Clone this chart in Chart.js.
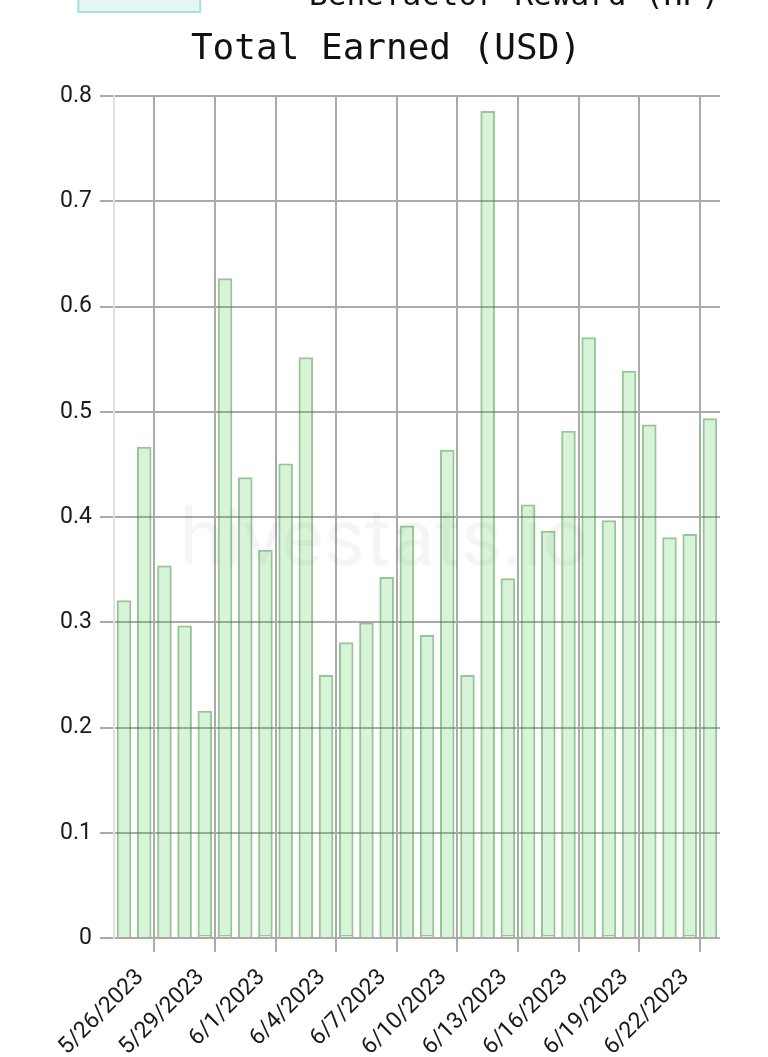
<!DOCTYPE html>
<html>
<head>
<meta charset="utf-8">
<script src="https://cdn.jsdelivr.net/npm/chart.js@4.4.0/dist/chart.umd.min.js"></script>
<style>
  html, body { margin: 0; padding: 0; background: #fff; overflow: hidden; width: 768px; height: 1057px; }
  #wrap { position: absolute; left: 0; top: -111px; width: 768px; height: 1184px; }
</style>
</head>
<body>
<div id="wrap"><canvas id="chart" width="768" height="1184"></canvas></div>
<script>
const dates = [
  '5/24/2023', '5/25/2023', '5/26/2023', '5/27/2023', '5/28/2023', '5/29/2023', '5/30/2023', '5/31/2023',
  '6/1/2023', '6/2/2023', '6/3/2023', '6/4/2023', '6/5/2023', '6/6/2023', '6/7/2023', '6/8/2023',
  '6/9/2023', '6/10/2023', '6/11/2023', '6/12/2023', '6/13/2023', '6/14/2023', '6/15/2023', '6/16/2023',
  '6/17/2023', '6/18/2023', '6/19/2023', '6/20/2023', '6/21/2023', '6/22/2023'
];

const tickLabels = [
  '5/26/2023', '5/29/2023', '6/1/2023', '6/4/2023', '6/7/2023',
  '6/10/2023', '6/13/2023', '6/16/2023', '6/19/2023', '6/22/2023'
];

// small bottom segments
const curationReward = [
  0, 0, 0, 0, 0.003, 0.003, 0, 0.003, 0, 0,
  0, 0.003, 0, 0, 0, 0.003, 0, 0, 0, 0.003,
  0, 0.003, 0, 0, 0.003, 0, 0, 0, 0.003, 0
];

const authorReward = [
  0.321, 0.467, 0.354, 0.297, 0.213, 0.624, 0.438, 0.366, 0.451, 0.552,
  0.250, 0.278, 0.300, 0.343, 0.392, 0.285, 0.464, 0.250, 0.786, 0.339,
  0.412, 0.384, 0.482, 0.571, 0.394, 0.539, 0.488, 0.381, 0.381, 0.494
];

const benefactorReward = [
  0, 0, 0, 0, 0, 0, 0, 0, 0, 0,
  0, 0, 0, 0, 0, 0, 0, 0, 0, 0,
  0, 0, 0, 0, 0, 0, 0, 0, 0, 0
];

const toPoints = (arr) => arr.map((v, i) => ({ x: i, y: v }));

const watermark = {
  id: 'watermark',
  beforeDatasetsDraw(chart) {
    const ctx = chart.ctx;
    ctx.save();
    ctx.font = '80px Roboto';
    ctx.fillStyle = 'rgba(0, 0, 0, 0.04)';
    ctx.textAlign = 'center';
    ctx.textBaseline = 'middle';
    ctx.fillText('hivestats.io', 384, 656);
    ctx.restore();
  }
};

// legend sits a little right of centre in the original
const legendShift = {
  id: 'legendShift',
  afterLayout(chart) {
    chart.legend.left += 13;
    chart.legend.right += 13;
  }
};

const green = {
  backgroundColor: 'rgba(60, 200, 60, 0.2)',
  borderColor: 'rgba(50, 140, 50, 0.5)',
  borderWidth: 2
};

new Chart(document.getElementById('chart'), {
  type: 'bar',
  data: {
    datasets: [
      { label: 'Curation Reward (HP)', data: toPoints(curationReward), ...green },
      { label: 'Author Reward (HP)', data: toPoints(authorReward), ...green },
      {
        label: 'Benefactor Reward (HP)',
        data: toPoints(benefactorReward),
        backgroundColor: 'rgba(75, 192, 192, 0.15)',
        borderColor: 'rgba(75, 192, 192, 0.45)',
        borderWidth: 2
      }
    ]
  },
  options: {
    responsive: false,
    animation: false,
    devicePixelRatio: 1,
    layout: { padding: { left: 52, right: 48, top: 0, bottom: 0 } },
    plugins: {
      legend: {
        position: 'top',
        weight: 3000,
        labels: {
          font: { family: 'DejaVu Sans Mono', size: 31 },
          color: '#111',
          boxWidth: 122,
          generateLabels(chart) {
            const items = Chart.defaults.plugins.legend.labels.generateLabels(chart);
            items.forEach(item => { item.text = '     ' + item.text; });
            return items;
          }
        }
      },
      title: {
        display: true,
        text: 'Total Earned (USD)',
        color: '#111',
        font: { family: 'DejaVu Sans Mono', size: 36, weight: 'normal' },
        padding: { top: 6, bottom: 25 }
      },
      tooltip: { enabled: false }
    },
    scales: {
      x: {
        type: 'linear',
        stacked: true,
        min: -0.5,
        max: dates.length - 0.5,
        offset: false,
        afterBuildTicks(scale) {
          scale.ticks = tickLabels.map(l => ({ value: dates.indexOf(l) - 0.5 }));
        },
        ticks: {
          autoSkip: false,
          minRotation: 45,
          maxRotation: 45,
          padding: 12,
          labelOffset: -14,
          color: '#1a1a1a',
          font: { family: 'Roboto', size: 23 },
          callback: (v) => dates[v + 0.5]
        },
        grid: { offset: false, color: '#aaa', lineWidth: 2, tickLength: 14 },
        border: { display: false }
      },
      y: {
        stacked: true,
        beginAtZero: true,
        ticks: {
          stepSize: 0.1,
          padding: 8,
          color: '#1a1a1a',
          font: { family: 'Roboto', size: 23 }
        },
        grid: { color: '#aaa', lineWidth: 2, tickLength: 14 },
        border: { color: 'rgba(0, 0, 0, 0.12)', width: 2 }
      }
    }
  },
  plugins: [watermark, legendShift]
});
</script>
</body>
</html>
